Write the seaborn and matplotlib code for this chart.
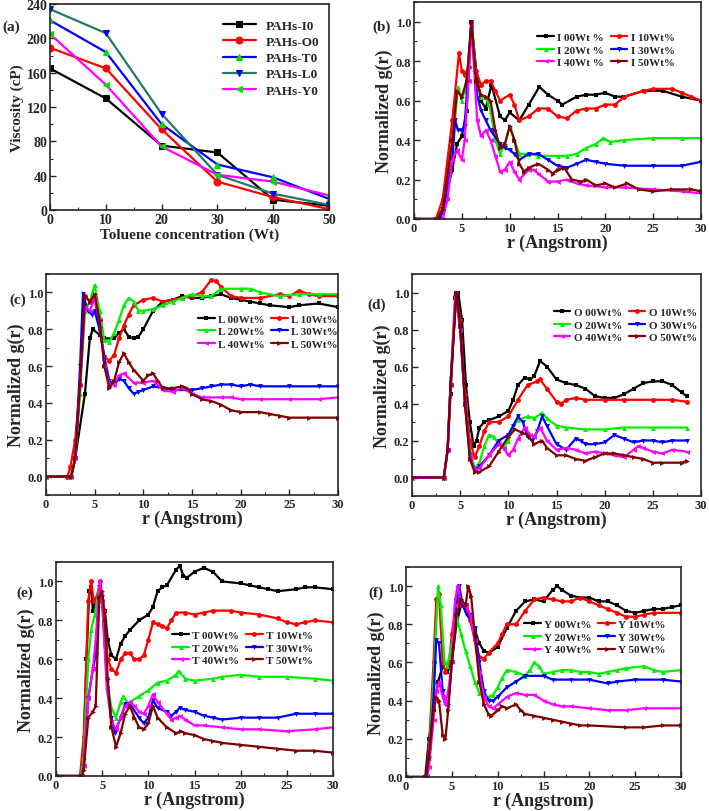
import pandas as pd
import matplotlib.pyplot as plt
import seaborn as sns
from matplotlib.ticker import MultipleLocator

# ===================================================================
# DATA - panel (a): viscosity vs toluene concentration
# ===================================================================
TOLUENE = [0, 10, 20, 30, 40, 50]
VISC_I0 = [165, 130, 75, 67, 12, 5]
VISC_O0 = [189, 165, 94, 33, 15, 1]
VISC_T0 = [221, 184, 100, 53, 38, 13]
VISC_L0 = [234, 206, 112, 41, 19, 6]
VISC_Y0 = [205, 146, 74, 41, 33, 17]

# ===================================================================
# DATA - panels (b)-(f): normalized g(r), (r, g) pairs
# ===================================================================
I00 = [(0, 0), (2.3, 0), (3, 0.05), (4, 0.25), (4.5, 0.38), (5, 0.42), (5.5, 0.55), (6, 1.0), (6.5, 0.75),
       (7, 0.6), (7.5, 0.56), (8.1, 0.68), (9, 0.52), (9.5, 0.5), (10, 0.54), (11, 0.5), (12, 0.58),
       (13.1, 0.67), (14, 0.63), (15, 0.6), (15.5, 0.58), (17, 0.62), (18, 0.63), (19, 0.63), (20, 0.64),
       (21, 0.62), (22, 0.62), (24, 0.65), (26, 0.65), (28, 0.62), (30, 0.6)]
I10 = [(0, 0), (2.3, 0), (3, 0.1), (4, 0.5), (4.7, 0.84), (5, 0.75), (5.3, 0.73), (5.7, 0.77), (6, 1.0),
       (6.5, 0.75), (7, 0.68), (7.5, 0.7), (8, 0.7), (8.5, 0.65), (9, 0.6), (10, 0.63), (10.5, 0.58),
       (11, 0.5), (12, 0.52), (13, 0.56), (14, 0.56), (15, 0.52), (16, 0.51), (17, 0.55), (18, 0.56),
       (19, 0.56), (20, 0.58), (21, 0.58), (22, 0.62), (24, 0.65), (25, 0.66), (27, 0.66), (28, 0.64),
       (29, 0.62), (30, 0.6)]
I20 = [(0, 0), (2.5, 0), (3, 0.05), (4, 0.35), (4.6, 0.67), (5, 0.6), (5.3, 0.65), (5.6, 0.75), (6, 1.0),
       (6.5, 0.7), (7, 0.62), (7.5, 0.62), (8, 0.55), (8.5, 0.4), (9, 0.33), (9.5, 0.38), (10, 0.47),
       (10.5, 0.4), (11, 0.33), (12, 0.33), (13, 0.32), (15, 0.32), (16, 0.32), (17, 0.33), (18, 0.36),
       (19, 0.38), (19.8, 0.41), (20.5, 0.39), (22, 0.4), (25, 0.41), (28, 0.41), (30, 0.41)]
I30 = [(0, 0), (2.6, 0), (3, 0.03), (4, 0.3), (4.3, 0.5), (4.6, 0.45), (5, 0.45), (5.3, 0.47), (5.6, 0.7),
       (6, 1.0), (6.5, 0.65), (7, 0.55), (7.5, 0.5), (8, 0.45), (9, 0.38), (9.5, 0.36), (10, 0.35),
       (10.5, 0.33), (11, 0.3), (12, 0.33), (13, 0.33), (14, 0.3), (15, 0.27), (16, 0.26), (17, 0.28),
       (18, 0.3), (19, 0.29), (20, 0.28), (22, 0.27), (25, 0.27), (28, 0.27), (30, 0.29)]
I40 = [(0, 0), (3, 0), (3.5, 0.1), (4, 0.3), (4.5, 0.35), (5, 0.3), (5.3, 0.4), (5.7, 0.7), (6, 0.98),
       (6.3, 0.75), (6.6, 0.5), (7, 0.42), (7.5, 0.45), (8, 0.4), (8.5, 0.32), (9, 0.24), (9.5, 0.25),
       (10, 0.29), (10.5, 0.24), (11, 0.2), (12, 0.25), (12.5, 0.25), (13, 0.23), (14, 0.19), (15, 0.19),
       (16, 0.2), (17, 0.18), (18, 0.17), (20, 0.16), (22, 0.16), (25, 0.15), (28, 0.14), (30, 0.13)]
I50 = [(0, 0), (2.5, 0), (3, 0.05), (4, 0.4), (4.5, 0.65), (5, 0.62), (5.5, 0.7), (6, 1.0), (6.5, 0.7),
       (7, 0.63), (7.5, 0.62), (8, 0.6), (8.5, 0.45), (9, 0.36), (9.5, 0.38), (10, 0.47), (10.5, 0.4),
       (11, 0.28), (11.5, 0.24), (12, 0.26), (13, 0.28), (14, 0.25), (14.5, 0.23), (15, 0.25), (15.7, 0.26),
       (16.5, 0.2), (17.5, 0.19), (18, 0.2), (19, 0.17), (20, 0.18), (21, 0.16), (22.3, 0.18), (23.5, 0.15),
       (25, 0.14), (27, 0.15), (29, 0.15), (30, 0.14)]

L00 = [(0, 0), (2.6, 0), (3, 0.1), (4, 0.45), (4.5, 0.75), (4.8, 0.8), (5.5, 0.77), (6, 0.75), (7, 0.75),
       (7.5, 0.78), (8, 0.8), (8.5, 0.76), (9, 0.75), (9.5, 0.76), (10, 0.8), (11, 0.9), (12, 0.95),
       (13, 0.96), (14, 0.98), (15, 0.97), (16, 0.97), (17, 0.98), (18, 0.99), (19, 0.97), (20, 0.96),
       (21, 0.95), (22, 0.94), (23, 0.93), (25, 0.92), (26, 0.93), (28, 0.94), (30, 0.92)]
L10 = [(0, 0), (2.2, 0), (2.5, 0.05), (3, 0.2), (3.5, 0.5), (4, 0.98), (4.5, 0.95), (5, 0.97), (5.5, 0.8),
       (6, 0.65), (6.5, 0.63), (7, 0.66), (7.5, 0.75), (8, 0.82), (8.5, 0.88), (9, 0.93), (10, 0.96),
       (11, 0.97), (12, 0.95), (13, 0.96), (14, 0.97), (15, 0.98), (16, 1.0), (17, 1.07), (17.5, 1.06),
       (18, 1.03), (19, 0.98), (20, 0.97), (22, 0.97), (24, 0.99), (25, 0.98), (26, 1.01), (27, 0.99),
       (28, 0.98), (30, 0.98)]
L20 = [(0, 0), (2.5, 0), (3, 0.1), (3.5, 0.45), (4, 0.9), (4.5, 0.95), (5, 1.04), (5.5, 0.9), (6, 0.74),
       (6.5, 0.73), (7, 0.78), (7.5, 0.85), (8, 0.93), (8.5, 0.97), (9, 0.95), (9.5, 0.9), (10, 0.9),
       (11, 0.91), (12, 0.93), (13, 0.95), (14, 0.97), (15, 0.99), (16, 0.98), (17, 0.98), (18, 1.02),
       (20, 1.02), (21, 1.02), (22, 1.0), (24, 0.98), (26, 0.99), (28, 0.99), (30, 0.99)]
L30 = [(0, 0), (2.6, 0), (3, 0.1), (3.5, 0.6), (3.8, 0.99), (4.3, 0.9), (4.7, 0.88), (5, 0.9), (5.5, 0.8),
       (6, 0.65), (6.5, 0.52), (7, 0.5), (7.5, 0.53), (8, 0.52), (8.5, 0.48), (9, 0.45), (9.5, 0.46),
       (10, 0.47), (11, 0.49), (12, 0.48), (13, 0.47), (15, 0.47), (16, 0.48), (17, 0.49), (18, 0.5),
       (19, 0.5), (20, 0.49), (21, 0.5), (22, 0.49), (25, 0.49), (28, 0.49), (30, 0.49)]
L40 = [(0, 0), (2.6, 0), (3, 0.1), (3.5, 0.5), (4, 0.92), (4.5, 0.9), (5, 0.97), (5.5, 0.85), (6, 0.6),
       (6.5, 0.5), (7, 0.5), (7.5, 0.55), (8, 0.56), (9, 0.51), (10, 0.51), (11, 0.52), (12, 0.47),
       (13, 0.46), (14, 0.48), (15, 0.45), (16, 0.43), (18, 0.43), (19, 0.43), (20, 0.42), (22, 0.42),
       (25, 0.42), (28, 0.42), (30, 0.43)]
L50 = [(0, 0), (2.6, 0), (3, 0.1), (3.5, 0.5), (4, 0.98), (4.5, 0.95), (5, 0.99), (5.5, 0.85), (6, 0.6),
       (6.5, 0.48), (7, 0.52), (7.5, 0.62), (8, 0.67), (8.5, 0.62), (9, 0.58), (10, 0.52), (10.5, 0.55),
       (11, 0.56), (11.5, 0.52), (12, 0.48), (13, 0.48), (14, 0.49), (14.5, 0.48), (15, 0.45), (16, 0.42),
       (17, 0.41), (18, 0.39), (19, 0.36), (20, 0.35), (22, 0.35), (23, 0.34), (24, 0.33), (25, 0.32),
       (27, 0.32), (30, 0.32)]

O00 = [(0, 0), (3.3, 0), (3.7, 0.15), (4, 0.45), (4.5, 0.97), (4.8, 1.0), (5.2, 0.85), (5.6, 0.5), (6, 0.3),
       (6.4, 0.17), (6.7, 0.2), (7, 0.27), (7.5, 0.3), (8, 0.31), (9, 0.33), (10, 0.36), (10.5, 0.42),
       (11, 0.5), (11.7, 0.54), (12.3, 0.53), (12.7, 0.55), (13.3, 0.63), (14, 0.6), (15, 0.53), (16, 0.51),
       (17, 0.5), (18, 0.48), (19, 0.44), (20, 0.43), (21, 0.43), (22, 0.45), (23, 0.48), (24, 0.51),
       (25, 0.52), (26, 0.52), (27, 0.5), (28, 0.46), (28.5, 0.44)]
O10 = [(0, 0), (3.3, 0), (3.7, 0.15), (4, 0.5), (4.6, 1.0), (5, 0.85), (5.5, 0.45), (6, 0.2), (6.5, 0.11),
       (7, 0.17), (7.5, 0.25), (8, 0.3), (9, 0.3), (10, 0.33), (11, 0.42), (12, 0.5), (13, 0.52),
       (13.3, 0.53), (14, 0.48), (15, 0.41), (15.5, 0.4), (16, 0.42), (17, 0.43), (18, 0.42), (20, 0.42),
       (22, 0.42), (25, 0.42), (27, 0.42), (28.5, 0.41)]
O20 = [(0, 0), (3.3, 0), (3.7, 0.15), (4, 0.5), (4.5, 1.0), (5, 0.8), (5.5, 0.4), (6, 0.15), (6.5, 0.05),
       (7, 0.08), (7.5, 0.17), (8, 0.23), (8.5, 0.22), (9, 0.18), (9.5, 0.16), (10, 0.2), (10.5, 0.27),
       (11, 0.31), (12, 0.33), (12.7, 0.32), (13.5, 0.35), (14, 0.32), (15, 0.28), (16, 0.27), (18, 0.26),
       (20, 0.26), (22, 0.27), (25, 0.27), (28.5, 0.27)]
O30 = [(0, 0), (3.3, 0), (3.7, 0.15), (4, 0.5), (4.6, 1.0), (5, 0.82), (5.5, 0.4), (6, 0.12), (6.5, 0.04),
       (7, 0.06), (8, 0.12), (9, 0.2), (10, 0.23), (10.5, 0.28), (11, 0.33), (11.5, 0.3), (12, 0.22),
       (12.5, 0.2), (13, 0.25), (13.5, 0.33), (14, 0.28), (15, 0.18), (16, 0.15), (17, 0.21), (17.5, 0.2),
       (18, 0.18), (19, 0.18), (20, 0.19), (21, 0.23), (22, 0.21), (23, 0.19), (24, 0.2), (25, 0.2),
       (26, 0.19), (27, 0.2), (28.5, 0.2)]
O40 = [(0, 0), (3.3, 0), (3.7, 0.15), (4, 0.5), (4.5, 1.0), (5, 0.8), (5.5, 0.4), (6, 0.12), (6.5, 0.04),
       (7, 0.05), (8, 0.12), (9, 0.18), (9.5, 0.16), (10, 0.12), (10.5, 0.15), (11, 0.21), (11.7, 0.27),
       (12.3, 0.23), (12.7, 0.22), (13.3, 0.27), (14, 0.2), (15, 0.15), (16, 0.16), (17, 0.15), (18, 0.13),
       (19, 0.14), (20, 0.13), (21, 0.12), (22, 0.11), (23, 0.15), (23.5, 0.17), (24, 0.16), (25, 0.14),
       (26, 0.13), (27, 0.15), (28.5, 0.14)]
O50 = [(0, 0), (3.3, 0), (3.7, 0.15), (4, 0.5), (4.6, 1.0), (5, 0.82), (5.5, 0.4), (6, 0.1), (6.5, 0.03),
       (7, 0.03), (8, 0.06), (9, 0.14), (10, 0.22), (10.7, 0.26), (11.5, 0.24), (12, 0.23), (12.7, 0.18),
       (13.5, 0.2), (14, 0.16), (15, 0.12), (16, 0.12), (17, 0.1), (18, 0.09), (19, 0.11), (20, 0.13),
       (21, 0.13), (22, 0.12), (23, 0.11), (24, 0.1), (25, 0.08), (26, 0.08), (28, 0.08), (28.5, 0.09)]

T00 = [(0, 0), (2.7, 0), (3, 0.15), (3.3, 0.6), (3.6, 0.95), (3.8, 0.97), (4, 0.85), (4.3, 0.9), (4.6, 0.92),
       (4.8, 0.97), (5, 0.9), (5.3, 0.85), (5.6, 0.7), (6, 0.62), (6.5, 0.6), (7, 0.68), (7.5, 0.72),
       (8, 0.75), (9, 0.8), (10, 0.83), (10.5, 0.87), (11, 0.95), (11.5, 0.97), (12, 0.98), (13, 1.06),
       (13.4, 1.08), (13.8, 1.03), (14.2, 1.02), (15, 1.05), (16, 1.07), (17, 1.05), (18, 1.0), (20, 0.99),
       (21, 0.98), (22, 0.97), (23, 0.96), (24, 0.95), (26, 0.96), (27, 0.97), (28, 0.97), (30, 0.96)]
T10 = [(0, 0), (2.6, 0), (3, 0.2), (3.5, 0.9), (3.8, 1.0), (4.1, 0.9), (4.4, 0.92), (4.8, 1.0), (5.2, 0.85),
       (5.6, 0.6), (6, 0.55), (6.5, 0.53), (7, 0.6), (7.5, 0.63), (8, 0.63), (8.5, 0.6), (9, 0.6),
       (9.5, 0.62), (10, 0.7), (10.5, 0.79), (11, 0.78), (11.5, 0.77), (12, 0.76), (12.5, 0.8), (13, 0.84),
       (14, 0.84), (15, 0.83), (16, 0.84), (17, 0.85), (19, 0.85), (20, 0.84), (22, 0.83), (24, 0.81),
       (25, 0.79), (26, 0.78), (27, 0.79), (28, 0.8), (30, 0.79)]
T20 = [(0, 0), (2.7, 0), (3, 0.1), (3.5, 0.6), (3.8, 0.75), (4.2, 0.83), (4.6, 0.95), (5, 0.88), (5.5, 0.5),
       (6, 0.35), (6.5, 0.3), (7, 0.38), (7.3, 0.41), (7.7, 0.38), (8, 0.38), (9, 0.41), (10, 0.44),
       (11, 0.48), (12, 0.49), (13, 0.52), (13.3, 0.54), (14, 0.5), (15, 0.49), (17, 0.5), (18, 0.51),
       (20, 0.52), (22, 0.51), (25, 0.51), (28, 0.5), (30, 0.49)]
T30 = [(0, 0), (2.8, 0), (3, 0.05), (3.5, 0.4), (4, 0.55), (4.3, 0.62), (4.7, 0.97), (5, 0.92), (5.5, 0.5),
       (6, 0.3), (6.4, 0.22), (7, 0.3), (7.5, 0.37), (8, 0.37), (9, 0.3), (9.5, 0.27), (10, 0.3),
       (10.5, 0.39), (11, 0.35), (12, 0.33), (12.5, 0.31), (13, 0.33), (13.4, 0.35), (14, 0.34), (15, 0.33),
       (16, 0.31), (17, 0.3), (18, 0.29), (20, 0.3), (22, 0.3), (24, 0.3), (26, 0.32), (28, 0.32), (30, 0.32)]
T40 = [(0, 0), (2.8, 0), (3, 0.05), (3.5, 0.4), (4, 0.55), (4.3, 0.7), (4.7, 1.0), (5, 0.9), (5.5, 0.45),
       (6, 0.28), (6.5, 0.24), (7, 0.3), (7.5, 0.36), (8, 0.38), (8.5, 0.36), (9, 0.33), (9.5, 0.32),
       (10, 0.36), (10.5, 0.42), (11, 0.38), (12, 0.32), (12.5, 0.29), (13, 0.3), (13.4, 0.31), (14, 0.29),
       (15, 0.26), (16, 0.26), (18, 0.25), (20, 0.24), (22, 0.24), (25, 0.23), (28, 0.24), (30, 0.25)]
T50 = [(0, 0), (2.8, 0), (3, 0.03), (3.5, 0.3), (4, 0.33), (4.3, 0.36), (4.7, 0.92), (5, 0.95), (5.3, 0.8),
       (5.6, 0.5), (6, 0.25), (6.5, 0.15), (7, 0.22), (7.5, 0.32), (8, 0.36), (8.5, 0.3), (9, 0.25),
       (9.5, 0.24), (10, 0.27), (10.5, 0.36), (11, 0.3), (12, 0.25), (13, 0.22), (13.5, 0.23), (14, 0.22),
       (15, 0.21), (16, 0.19), (17, 0.18), (18, 0.17), (20, 0.16), (22, 0.15), (24, 0.14), (26, 0.13),
       (28, 0.13), (30, 0.12)]

Y00 = [(0, 0), (2.1, 0), (2.5, 0.2), (3, 0.35), (3.5, 0.5), (4, 0.58), (4.5, 0.55), (5, 0.6), (5.5, 0.8),
       (6, 0.9), (6.5, 0.9), (7, 0.85), (7.5, 0.77), (8, 0.7), (8.5, 0.66), (9, 0.65), (10, 0.68),
       (11, 0.78), (12, 0.87), (13, 0.92), (14, 0.93), (15, 0.92), (16, 0.98), (16.5, 1.0), (17, 0.98),
       (18, 0.95), (19, 0.94), (20, 0.94), (21, 0.92), (22, 0.92), (23, 0.9), (24, 0.87), (25, 0.86),
       (26, 0.87), (27, 0.88), (28, 0.88), (29, 0.89), (30, 0.9)]
Y10 = [(0, 0), (2.2, 0), (2.5, 0.15), (3, 0.6), (3.3, 0.93), (3.6, 0.96), (4, 0.6), (4.3, 0.55), (4.7, 0.6),
       (5, 0.75), (5.5, 0.93), (6, 0.9), (6.5, 0.88), (7, 0.82), (7.5, 0.72), (8, 0.63), (8.5, 0.62),
       (9, 0.65), (10, 0.7), (10.5, 0.75), (11, 0.8), (12, 0.8), (13, 0.87), (14, 0.93), (15, 0.94),
       (16, 0.93), (17, 0.92), (18, 0.92), (19, 0.94), (20, 0.92), (21, 0.9), (22, 0.88), (23, 0.86),
       (24, 0.84), (25, 0.84), (26, 0.85), (27, 0.86), (30, 0.86)]
Y20 = [(0, 0), (2.2, 0), (2.5, 0.1), (3, 0.5), (3.5, 1.0), (3.8, 0.9), (4.2, 0.6), (4.5, 0.58), (5, 0.7),
       (5.5, 0.85), (5.7, 0.8), (6, 0.75), (6.5, 0.66), (7, 0.58), (7.5, 0.5), (8, 0.44), (8.5, 0.41),
       (9, 0.42), (9.5, 0.43), (10, 0.47), (10.5, 0.52), (11, 0.56), (12, 0.55), (13, 0.53), (13.5, 0.56),
       (14, 0.6), (14.5, 0.58), (15, 0.54), (16, 0.55), (17, 0.56), (18, 0.56), (19, 0.55), (20, 0.55),
       (21, 0.54), (22, 0.55), (23, 0.56), (24, 0.57), (26, 0.58), (27, 0.56), (28, 0.55), (30, 0.56)]
Y30 = [(0, 0), (2.2, 0), (2.5, 0.1), (3, 0.4), (3.3, 0.72), (3.6, 0.7), (4, 0.45), (4.3, 0.38), (4.6, 0.37),
       (5, 0.6), (5.5, 0.9), (5.8, 1.0), (6.2, 0.9), (6.6, 0.85), (7, 0.83), (7.5, 0.78), (8, 0.6),
       (8.5, 0.45), (9, 0.4), (9.5, 0.4), (10, 0.42), (11, 0.47), (12, 0.5), (13, 0.53), (15, 0.53),
       (16, 0.51), (18, 0.51), (20, 0.51), (22, 0.49), (23, 0.5), (25, 0.51), (28, 0.51), (30, 0.5)]
Y40 = [(0, 0), (2.3, 0), (2.5, 0.05), (3, 0.3), (3.3, 0.45), (3.6, 0.5), (4, 0.42), (4.3, 0.38), (4.6, 0.45),
       (5, 0.6), (5.3, 0.9), (5.6, 1.0), (6, 0.92), (6.5, 0.9), (7, 0.85), (7.5, 0.72), (8, 0.55),
       (8.5, 0.42), (9, 0.37), (9.5, 0.36), (10, 0.38), (11, 0.42), (12, 0.44), (13, 0.43), (14, 0.43),
       (15, 0.4), (16, 0.38), (17, 0.37), (18, 0.37), (20, 0.36), (22, 0.35), (24, 0.35), (26, 0.36),
       (30, 0.36)]
Y50 = [(0, 0), (2.2, 0), (2.5, 0.1), (3, 0.35), (3.3, 0.42), (3.6, 0.4), (4, 0.22), (4.3, 0.2), (4.6, 0.35),
       (5, 0.6), (5.5, 0.85), (6, 0.93), (6.5, 0.9), (6.8, 1.0), (7.1, 0.95), (7.5, 0.75), (8, 0.5),
       (8.5, 0.38), (9, 0.33), (9.3, 0.32), (10, 0.35), (10.5, 0.37), (11, 0.36), (12, 0.38), (12.5, 0.35),
       (13, 0.33), (14, 0.32), (15, 0.31), (16, 0.3), (17, 0.29), (18, 0.28), (19, 0.27), (20, 0.27),
       (24, 0.26), (26, 0.26), (28, 0.27), (30, 0.27)]

# ===================================================================
# STYLE
# ===================================================================
sns.set_style('ticks')
plt.rcParams['font.family'] = ['Liberation Serif', 'DejaVu Serif']
plt.rcParams['font.weight'] = 'bold'
plt.rcParams['axes.labelweight'] = 'bold'
plt.rcParams['axes.linewidth'] = 1.2

W, H = 709, 812
SERIES_COLORS = ['black', 'red', '#00ee00', 'blue', 'magenta', '#800000']
SERIES_MARKERS = ['s', 'o', '^', 'v', '<', '>']


def px_axes(fig, left, top, right, bottom):
    return fig.add_axes([left / W, 1 - bottom / H, (right - left) / W, (bottom - top) / H])


def style_axes(ax, xmaj, xmin, ymaj, ymin, tick_size):
    ax.xaxis.set_major_locator(MultipleLocator(xmaj))
    ax.xaxis.set_minor_locator(MultipleLocator(xmin))
    ax.yaxis.set_major_locator(MultipleLocator(ymaj))
    ax.yaxis.set_minor_locator(MultipleLocator(ymin))
    ax.tick_params(which='major', direction='in', length=4, width=1, labelsize=tick_size, pad=2)
    ax.tick_params(which='minor', direction='in', length=2, width=0.8)
    for lab in ax.get_xticklabels() + ax.get_yticklabels():
        lab.set_fontweight('bold')


def draw_gr(ax, curves, labels, ylim, legend_anchor):
    for pts, lab, col, mk in zip(curves, labels, SERIES_COLORS, SERIES_MARKERS):
        df = pd.DataFrame(pts, columns=['r', 'g'])
        sns.lineplot(data=df, x='r', y='g', ax=ax, color=col, marker=mk, markersize=3.5,
                     markeredgewidth=0, linewidth=1.6, label=lab, sort=False, estimator=None)
    ax.set_xlim(0, 30)
    ax.set_ylim(*ylim)
    ax.set_xlabel('r (Angstrom)', fontsize=13, labelpad=0)
    ax.set_ylabel('Normalized g(r)', fontsize=13, labelpad=2)
    style_axes(ax, 5, 2.5, 0.2, 0.1, 9)
    h, l = ax.get_legend_handles_labels()
    order = [0, 2, 4, 1, 3, 5]
    ax.legend([h[i] for i in order], [l[i] for i in order], ncol=2, frameon=False,
              loc='upper left', bbox_to_anchor=legend_anchor,
              handlelength=1.5, handletextpad=0.3, columnspacing=0.6, labelspacing=0.25,
              borderaxespad=0, borderpad=0, prop={'weight': 'bold', 'size': 8})


fig = plt.figure(figsize=(W / 100, H / 100), dpi=100)

# ===================================================================
# (a) viscosity
# ===================================================================
ax = px_axes(fig, 50, 5, 329, 211)
visc_series = [
    ('PAHs-I0', VISC_I0, 'black', 's', 'black'),
    ('PAHs-O0', VISC_O0, 'red', 'o', 'red'),
    ('PAHs-T0', VISC_T0, 'blue', '^', '#00dd00'),
    ('PAHs-L0', VISC_L0, '#1f7a66', 'v', 'blue'),
    ('PAHs-Y0', VISC_Y0, 'magenta', '<', '#00dd00'),
]
for lab, vals, lc, mk, mc in visc_series:
    sns.lineplot(x=TOLUENE, y=vals, ax=ax, color=lc, marker=mk, markersize=5,
                 markerfacecolor=mc, markeredgecolor=mc, linewidth=1.6, label=lab)
ax.set_xlim(0, 50)
ax.set_ylim(0, 240)
ax.set_xlabel('Toluene concentration (Wt)', fontsize=11, labelpad=1)
ax.set_ylabel('Viscosity (cP)', fontsize=11, labelpad=2)
style_axes(ax, 10, 5, 40, 20, 10)
ax.legend(frameon=False, loc='upper left', bbox_to_anchor=(0.6, 0.95), borderaxespad=0,
          prop={'weight': 'bold', 'size': 9.5}, handlelength=2.5, labelspacing=0.3)
fig.text(2 / W, 1 - 27 / H, '(a)', fontsize=11, fontweight='bold', va='center')

# ===================================================================
# (b)-(f) radial distribution functions
# ===================================================================
ax = px_axes(fig, 414, 3, 701, 220)
draw_gr(ax, [I00, I10, I20, I30, I40, I50],
        ['I 00Wt %', 'I 10Wt%', 'I 20Wt %', 'I 30Wt%', 'I 40Wt %', 'I 50Wt%'],
        (0, 1.1), (0.43, 0.86))
fig.text(372 / W, 1 - 27 / H, '(b)', fontsize=11, fontweight='bold', va='center')

ax = px_axes(fig, 46, 275, 338, 496)
draw_gr(ax, [L00, L10, L20, L30, L40, L50],
        ['L 00Wt%', 'L 10Wt%', 'L 20Wt%', 'L 30Wt%', 'L 40Wt%', 'L 50Wt%'],
        (-0.1, 1.1), (0.52, 0.82))
fig.text(9 / W, 1 - 300 / H, '(c)', fontsize=11, fontweight='bold', va='center')

ax = px_axes(fig, 412, 275, 701, 497)
draw_gr(ax, [O00, O10, O20, O30, O40, O50],
        ['O 00Wt%', 'O 10Wt%', 'O 20Wt%', 'O 30Wt%', 'O 40Wt%', 'O 50Wt%'],
        (-0.1, 1.1), (0.49, 0.85))
fig.text(367 / W, 1 - 305 / H, '(d)', fontsize=11, fontweight='bold', va='center')

ax = px_axes(fig, 56, 563, 333, 777)
draw_gr(ax, [T00, T10, T20, T30, T40, T50],
        ['T 00Wt%', 'T 10Wt%', 'T 20Wt%', 'T 30Wt%', 'T 40Wt%', 'T 50Wt%'],
        (0, 1.1), (0.42, 0.68))
fig.text(16 / W, 1 - 593 / H, '(e)', fontsize=11, fontweight='bold', va='center')

ax = px_axes(fig, 406, 568, 681, 778)
draw_gr(ax, [Y00, Y10, Y20, Y30, Y40, Y50],
        ['Y 00Wt%', 'Y 10Wt%', 'Y 20Wt%', 'Y 30Wt%', 'Y 40Wt%', 'Y 50Wt%'],
        (0, 1.1), (0.43, 0.75))
fig.text(368 / W, 1 - 593 / H, '(f)', fontsize=11, fontweight='bold', va='center')

fig.savefig('out.png', dpi=100)
plt.close(fig)
